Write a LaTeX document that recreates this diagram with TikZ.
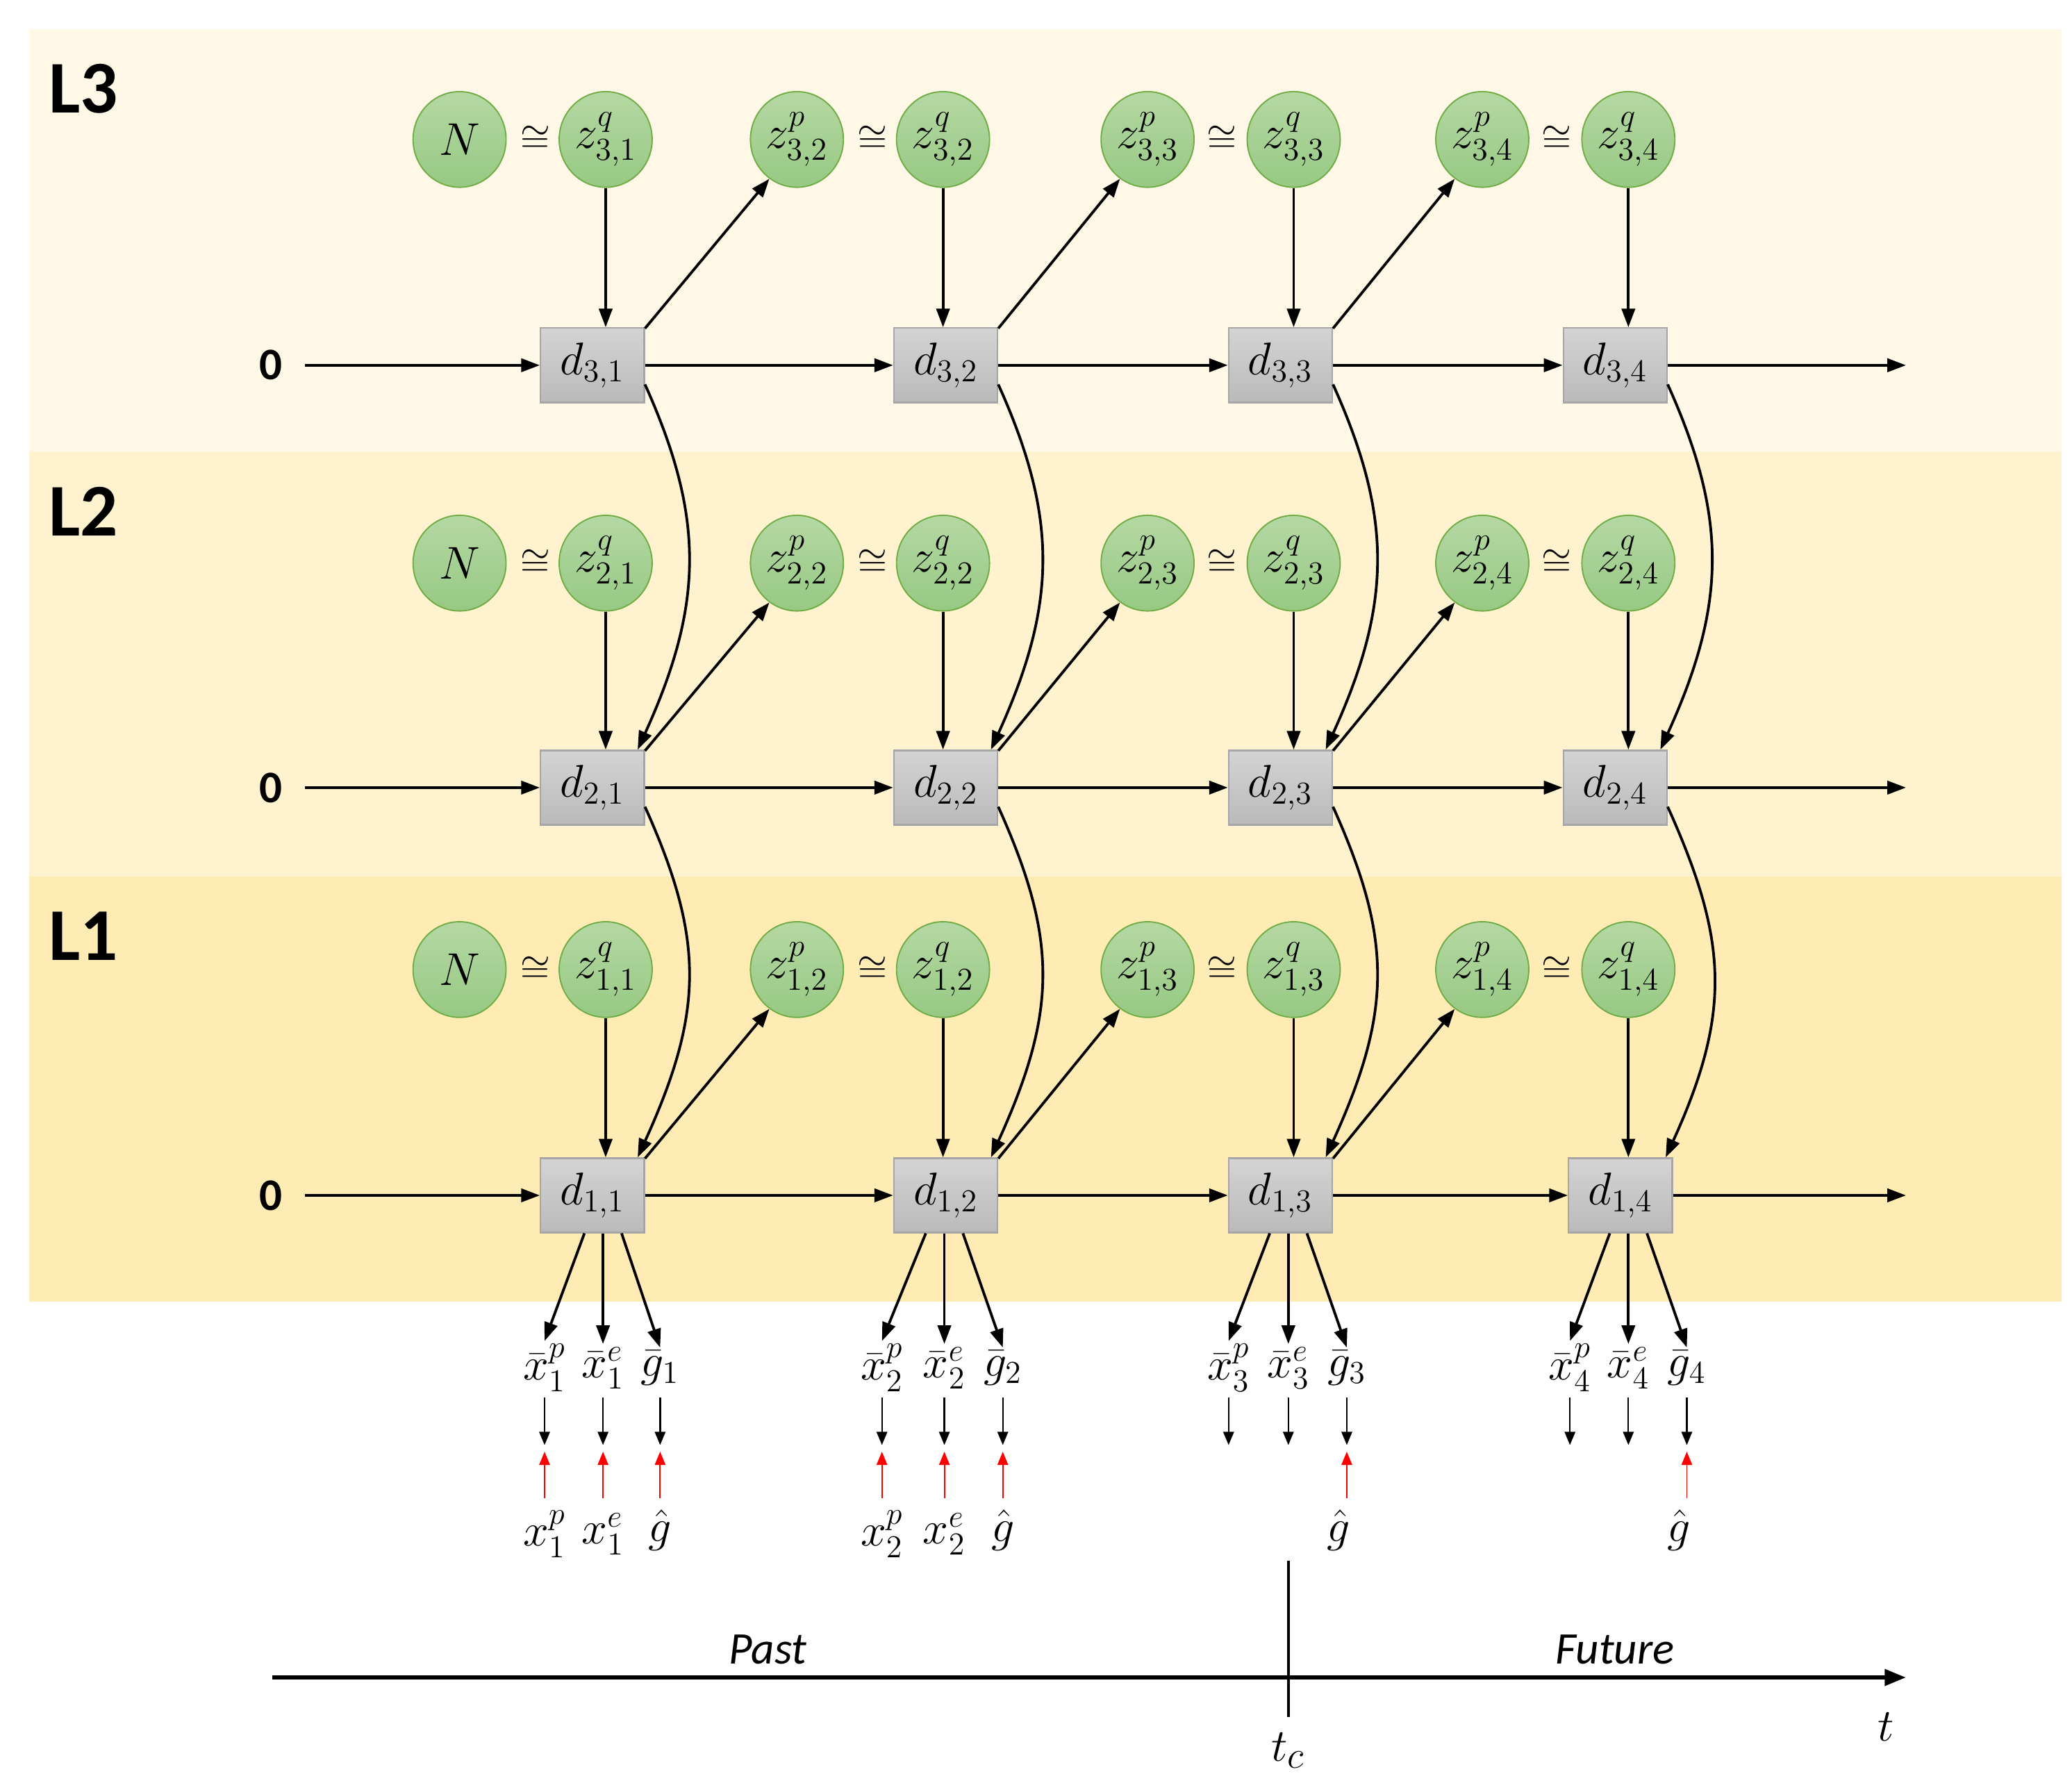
\documentclass[tikz,border=0pt]{standalone}
\usepackage{fontspec}
\usepackage{amsmath,amssymb}
\newfontfamily\carl{Carlito}
\usetikzlibrary{arrows.meta,calc,shapes.geometric}
\definecolor{bandA}{HTML}{FFF8E6}
\definecolor{bandB}{HTML}{FFF2CF}
\definecolor{bandC}{HTML}{FFEBB4}
\definecolor{gtop}{HTML}{B5D8A3}
\definecolor{gbot}{HTML}{97C983}
\definecolor{gbor}{HTML}{70AD47}
\begin{document}
\begin{tikzpicture}[x=0.5pt,y=-0.5pt,
  zc/.style={ellipse,minimum width=35pt,minimum height=36pt,inner sep=0pt,draw=gbor,line width=0.5pt,top color=gtop,bottom color=gbot,font=\fontsize{17}{20}\selectfont},
  db/.style={rectangle,minimum width=39pt,minimum height=28pt,inner sep=0pt,draw=black!35,line width=0.6pt,top color=black!17,bottom color=black!27,font=\fontsize{18}{21}\selectfont},
  ar/.style={line width=1pt,-{Triangle[length=7pt,width=5pt]}},
  sa/.style={line width=0.6pt,-{Triangle[length=5pt,width=4pt]}},
  ra/.style={line width=0.5pt,red,-{Triangle[length=5pt,width=4pt]}},
  lab/.style={font=\fontsize{17}{20}\selectfont,inner sep=1pt},
  Lt/.style={font=\carl\bfseries\fontsize{28}{30}\selectfont},
  zero/.style={font=\carl\bfseries\fontsize{17}{20}\selectfont},
  cong/.style={font=\fontsize{15}{18}\selectfont,inner sep=0pt}]
\useasboundingbox (0,0) rectangle (1560,1342);
\fill[white] (0,0) rectangle (1560,1342);
\fill[bandA] (22,22) rectangle (1552,340);
\fill[bandB] (22,340) rectangle (1552,660);
\fill[bandC] (22,660) rectangle (1552,980);
\node[Lt] (L3) at (63,67) {L3};
\node[Lt] (L2) at (63,385) {L2};
\node[Lt] (L1) at (63,705) {L1};
% levels
\foreach \l/\zy/\dy in {3/105/275, 2/424/593, 1/730/900}{
  \node[zero] (zero\l) at (204,\dy) {0};
  \node[zc] (N\l) at (346,\zy) {$N$};
  \node[cong] (c\l1) at (403,\zy) {$\cong$};
  \node[zc] (zq\l1) at (456,\zy) {$z^{q}_{\l,1}$};
  \node[zc] (zp\l2) at (600,\zy) {$z^{p}_{\l,2}$};
  \node[cong] (c\l2) at (657,\zy) {$\cong$};
  \node[zc] (zq\l2) at (710,\zy) {$z^{q}_{\l,2}$};
  \node[zc] (zp\l3) at (864,\zy) {$z^{p}_{\l,3}$};
  \node[cong] (c\l3) at (920,\zy) {$\cong$};
  \node[zc] (zq\l3) at (974,\zy) {$z^{q}_{\l,3}$};
  \node[zc] (zp\l4) at (1116,\zy) {$z^{p}_{\l,4}$};
  \node[cong] (c\l4) at (1172,\zy) {$\cong$};
  \node[zc] (zq\l4) at (1226,\zy) {$z^{q}_{\l,4}$};
  \node[db] (d\l1) at (446,\dy) {$d_{\l,1}$};
  \node[db] (d\l2) at (712,\dy) {$d_{\l,2}$};
  \node[db] (d\l3) at (964,\dy) {$d_{\l,3}$};
  \coordinate (end\l) at (1435,\dy);
}
\node[db] (d14x) at (1220,900) {$d_{1,4}$};
\node[db] (d24x) at (1216,593) {$d_{2,4}$};
\node[db] (d34x) at (1216,275) {$d_{3,4}$};
\foreach \l in {1,2,3}{
  \draw[ar] (zero\l.east) ++(10,0) coordinate (s\l) -- (d\l1.west);
  \draw[ar] (d\l1.east) -- (d\l2.west);
  \draw[ar] (d\l2.east) -- (d\l3.west);
  \draw[ar] (d\l3.east) -- (d\l4x.west);
  \draw[ar] (d\l4x.east) -- (end\l);
  \draw[ar] (zq\l1.south) -- (zq\l1.south |- d\l1.north);
  \draw[ar] (zq\l2.south) -- (zq\l2.south |- d\l2.north);
  \draw[ar] (zq\l3.south) -- (zq\l3.south |- d\l3.north);
  \draw[ar] (zq\l4.south) -- (zq\l4.south |- d\l4x.north);
  \draw[ar] (d\l1.35) -- (zp\l2.235);
  \draw[ar] (d\l2.35) -- (zp\l3.235);
  \draw[ar] (d\l3.35) -- (zp\l4.235);
}
\foreach \a/\b in {31/21,32/22,33/23,21/11,22/12,23/13}{
  \draw[ar] (d\a.-20) .. controls ($(d\a.-20)+(45,100)$) and ($(d\b.40)+(50,-110)$) .. (d\b.40);
}
\draw[ar] (d34x.-20) .. controls ($(d34x.-20)+(45,100)$) and ($(d24x.40)+(50,-110)$) .. (d24x.40);
\draw[ar] (d24x.-20) .. controls ($(d24x.-20)+(45,100)$) and ($(d14x.40)+(50,-110)$) .. (d14x.40);
% outputs
\foreach \b/\i/\xa/\xb/\xc in {d11/1/410/454/497, d12/2/664/711/755, d13/3/925/970/1014, d14x/4/1182/1226/1270}{
  \node[lab] (xp\i) at (\xa,1030) {$\bar{x}^{p}_{\i}$};
  \node[lab] (xe\i) at (\xb,1030) {$\bar{x}^{e}_{\i}$};
  \node[lab] (gb\i) at (\xc,1030) {$\bar{g}_{\i}$};
  \draw[ar] ([xshift=-7pt]xe\i.north |- \b.south) -- (xp\i.north);
  \draw[ar] (xe\i.north |- \b.south) -- (xe\i.north);
  \draw[ar] ([xshift=7pt]xe\i.north |- \b.south) -- (gb\i.north);
  \draw[sa] (\xa,1052) -- (\xa,1088);
  \draw[sa] (\xb,1052) -- (\xb,1088);
  \draw[sa] (\xc,1052) -- (\xc,1088);
}
\foreach \i/\xa/\xb/\xc in {1/410/454/497, 2/664/711/755}{
  \node[lab] (rxp\i) at (\xa,1155) {$x^{p}_{\i}$};
  \node[lab] (rxe\i) at (\xb,1155) {$x^{e}_{\i}$};
  \node[lab] (rg\i) at (\xc,1152) {$\hat{g}$};
  \draw[ra] (\xa,1128) -- (\xa,1093);
  \draw[ra] (\xb,1128) -- (\xb,1093);
  \draw[ra] (\xc,1128) -- (\xc,1093);
}
\node[lab] (rg3) at (1008,1152) {$\hat{g}$};
\draw[ra] (1014,1128) -- (1014,1093);
\node[lab] (rg4) at (1264,1152) {$\hat{g}$};
\draw[ra] (1270,1128) -- (1270,1093);
% time axis
\coordinate (ta) at (205,1263);
\coordinate (tb) at (1435,1263);
\draw[line width=1.6pt,-{Triangle[length=8pt,width=6pt]}] (ta) -- (tb);
\coordinate (tc1) at (970,1175);
\coordinate (tc2) at (970,1293);
\draw[line width=1pt] (tc1) -- (tc2);
\node[font=\carl\itshape\fontsize{17}{20}\selectfont] (past) at (578,1242) {Past};
\node[font=\carl\itshape\fontsize{17}{20}\selectfont] (fut) at (1216,1242) {Future};
\node[font=\fontsize{19}{22}\selectfont] (t) at (1420,1300) {$t$};
\node[font=\fontsize{19}{22}\selectfont] (tc) at (970,1318) {$t_c$};
\end{tikzpicture}
\end{document}
